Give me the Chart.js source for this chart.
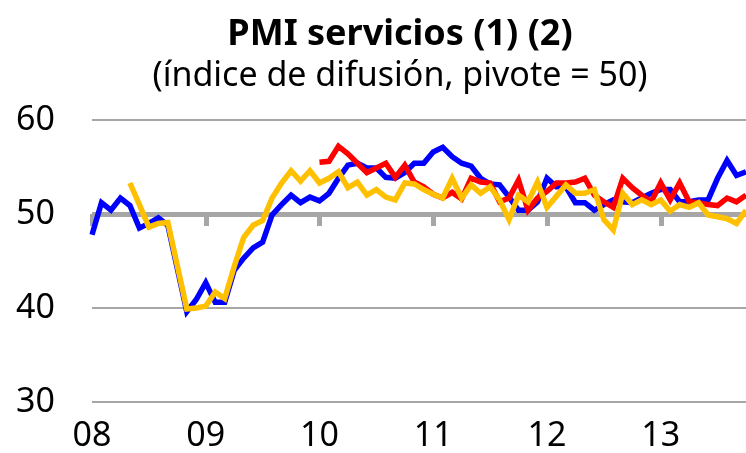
<!DOCTYPE html>
<html>
<head>
<meta charset="utf-8">
<script src="https://cdn.jsdelivr.net/npm/chart.js@4"></script>
<style>
  html, body { margin: 0; padding: 0; background: #fff; overflow: hidden; }
  canvas { display: block; }
</style>
</head>
<body>
<canvas id="pmiChart" width="746" height="453"></canvas>
<script>
// Year labels shown on the x axis (one category per month, Jan 2008 - Oct 2013)
const yearLabels = ['08', '09', '10', '11', '12', '13'];
const monthsLastYear = 10;
const yTicks = [30, 40, 50, 60];

// Series values, monthly
const serieAzul = [
  47.8, 51.2, 50.4, 51.7, 50.9, 48.5, 49.0, 49.6, 48.8, 44.2,
  39.6, 40.9, 42.7, 40.6, 40.6, 44.0, 45.3, 46.4, 47.0, 49.9,
  51.0, 52.0, 51.2, 51.8, 51.4, 52.2, 53.8, 55.2, 55.4, 54.9,
  54.9, 53.9, 53.8, 54.4, 55.4, 55.4, 56.6, 57.1, 56.1, 55.4,
  55.1, 53.8, 53.2, 53.1, 51.8, 50.4, 50.4, 51.3, 53.8, 52.9,
  52.9, 51.2, 51.2, 50.4, 51.0, 51.5, 51.3, 51.2, 51.7, 52.2,
  52.6, 52.6, 51.3, 51.3, 51.5, 51.5, 53.8, 55.7, 54.1, 54.5
];
const serieRoja = [
  null, null, null, null, null, null, null, null, null, null,
  null, null, null, null, null, null, null, null, null, null,
  null, null, null, null,
  55.5, 55.6, 57.2, 56.4, 55.4, 54.4, 54.9, 55.4, 53.9, 55.2,
  53.4, 52.9, 52.1, 51.7, 52.3, 51.6, 53.8, 53.4, 53.3, 51.3,
  51.7, 53.6, 50.4, 51.7, 52.4, 53.3, 53.3, 53.4, 53.8, 52.0,
  51.3, 50.7, 53.8, 52.8, 52.0, 51.3, 53.3, 51.5, 53.3, 51.3,
  51.2, 51.0, 50.9, 51.7, 51.3, 52.0
];
const serieAmarilla = [
  null, null, null, null,
  53.3, 51.0, 48.6, 49.0, 49.1, 44.5, 39.9, 40.0, 40.2, 41.7,
  41.0, 44.4, 47.5, 48.8, 49.3, 51.7, 53.3, 54.6, 53.5, 54.6,
  53.3, 53.8, 54.5, 52.8, 53.4, 52.0, 52.6, 51.8, 51.5, 53.3,
  53.2, 52.6, 52.1, 51.7, 53.8, 51.7, 53.1, 52.2, 52.9, 51.5,
  49.4, 52.0, 51.3, 53.4, 50.7, 51.9, 53.1, 52.2, 52.2, 52.6,
  49.4, 48.3, 52.2, 51.0, 51.5, 51.0, 51.5, 50.3, 51.0, 50.7,
  51.2, 49.9, 49.7, 49.5, 49.0, 50.4
];

// one category per month, the year label goes on January
const labels = [];
yearLabels.forEach((yr, y) => {
  const n = y === yearLabels.length - 1 ? monthsLastYear : 12;
  for (let m = 0; m < n; m++) labels.push(m === 0 ? yr : '');
});

const FONT = 'Noto Sans';
const GRID = '#a6a6a6';
const TITLE_LEFT = 54; // titles are centred a bit right of the canvas centre

// thick 50 line tick marks under each January
const pivotTicks = {
  id: 'pivotTicks',
  afterLayout(chart) {
    // shift title + subtitle boxes so they centre like the original
    chart.boxes.forEach(b => {
      if (b instanceof Chart.Title._element) {
        b.left = TITLE_LEFT;
        b.right = chart.width;
      }
    });
  },
  beforeDatasetsDraw(chart) {
    const { ctx, scales: { x, y } } = chart;
    const y50 = y.getPixelForValue(50);
    ctx.save();
    ctx.fillStyle = GRID;
    labels.forEach((lab, i) => {
      if (!lab) return;
      const px = x.getPixelForValue(i);
      ctx.fillRect(Math.round(px) - 2, y50, 5, 12);
    });
    ctx.restore();
  }
};

const line = (data, color, order) => ({
  data: data,
  borderColor: color,
  backgroundColor: color,
  borderWidth: 5.5,
  pointRadius: 0,
  tension: 0,
  spanGaps: false,
  order: order
});

new Chart(document.getElementById('pmiChart'), {
  type: 'line',
  data: {
    labels: labels,
    datasets: [
      line(serieAzul, '#0000ff', 3),
      line(serieRoja, '#ff0000', 2),
      line(serieAmarilla, '#ffc000', 1)
    ]
  },
  options: {
    responsive: false,
    animation: false,
    devicePixelRatio: 1,
    layout: { padding: { left: 16, right: 0, top: 0, bottom: 0 } },
    plugins: {
      legend: { display: false },
      tooltip: { enabled: false },
      title: {
        display: true,
        text: 'PMI servicios (1) (2)',
        color: '#000',
        font: { family: FONT, size: 36, weight: 'bold', lineHeight: 1.2 },
        padding: { top: 13, bottom: 0 }
      },
      subtitle: {
        display: true,
        text: '(índice de difusión, pivote = 50)',
        color: '#000',
        font: { family: FONT, size: 34, weight: 'normal', lineHeight: 1.2 },
        padding: { top: 0, bottom: 23 }
      }
    },
    scales: {
      x: {
        offset: false,
        // hidden grid, but the tick length pushes the labels down
        grid: { display: false, drawTicks: true, tickLength: 17 },
        border: { display: false },
        afterFit(scale) { scale.height = 51; },
        ticks: {
          autoSkip: false,
          maxRotation: 0,
          minRotation: 0,
          padding: 0,
          color: '#000',
          font: { family: FONT, size: 34, lineHeight: 1 },
          callback: (v, i) => labels[i]
        }
      },
      y: {
        min: yTicks[0],
        max: yTicks[yTicks.length - 1],
        afterFit(scale) { scale.width = 76; },
        afterBuildTicks(scale) { scale.ticks = yTicks.map(v => ({ value: v })); },
        border: { display: false },
        grid: {
          drawTicks: false,
          color: GRID,
          lineWidth: c => (c.tick && c.tick.value === 50 ? 5 : 2)
        },
        ticks: {
          padding: 0,
          crossAlign: 'far',
          color: '#000',
          font: { family: FONT, size: 34 }
        }
      }
    }
  },
  plugins: [pivotTicks]
});
</script>
</body>
</html>
